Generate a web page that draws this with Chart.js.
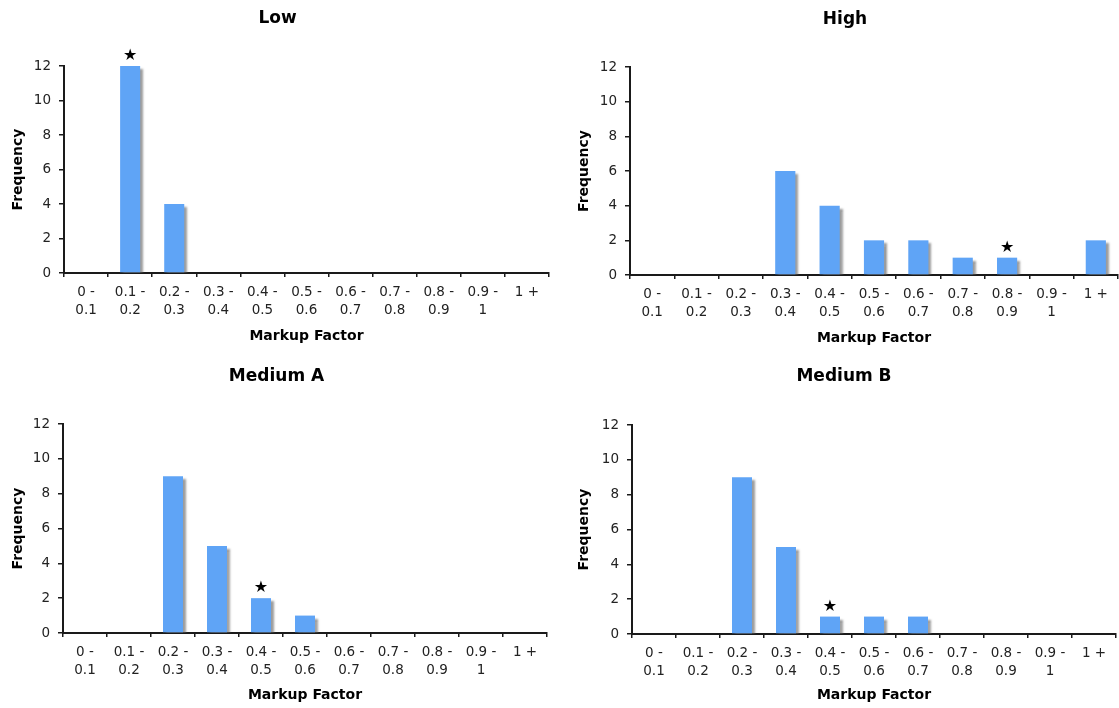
<!DOCTYPE html>
<html>
<head>
<meta charset="utf-8">
<script src="https://cdn.jsdelivr.net/npm/chart.js@4"></script>
<style>
  html, body { margin: 0; padding: 0; background: #fff; }
  body { width: 1119px; height: 708px; position: relative; overflow: hidden; }
  canvas { position: absolute; }
</style>
</head>
<body>
<canvas id="low"></canvas>
<canvas id="high"></canvas>
<canvas id="mediumA"></canvas>
<canvas id="mediumB"></canvas>
<script>
// markup factor bins (two-line labels, as wrapped in the original)
const categories = [
  ["0 -", "0.1"], ["0.1 -", "0.2"], ["0.2 -", "0.3"], ["0.3 -", "0.4"],
  ["0.4 -", "0.5"], ["0.5 -", "0.6"], ["0.6 -", "0.7"], ["0.7 -", "0.8"],
  ["0.8 -", "0.9"], ["0.9 -", "1"], ["1 +"]
];
const lowFreq     = [0, 12, 4, 0, 0, 0, 0, 0, 0, 0, 0];
const highFreq    = [0, 0, 0, 6, 4, 2, 2, 1, 1, 0, 2];
const mediumAFreq = [0, 0, 9, 5, 2, 1, 0, 0, 0, 0, 0];
const mediumBFreq = [0, 0, 9, 5, 1, 1, 1, 0, 0, 0, 0];
const panelTitles = ["Low", "High", "Medium A", "Medium B"];
const starIndex   = [1, 8, 4, 4];   // bin marked with a star in each panel
const yMin = 0, yMax = 12, yStep = 2;
const xTitle = "Markup Factor";
const yTitle = "Frequency";

const seriesList = [lowFreq, highFreq, mediumAFreq, mediumBFreq];
const canvasIds = ["low", "high", "mediumA", "mediumB"];

// page layout (pixels): canvas box, plot box and title centre line
const layout = [
  { canvas: { l: 0,   t: 0,   w: 560, h: 356 }, plot: { l: 64,  r: 549,  t: 66,  b: 273 }, titleY: 19 },
  { canvas: { l: 566, t: 0,   w: 553, h: 356 }, plot: { l: 630, r: 1118, t: 67,  b: 275 }, titleY: 20 },
  { canvas: { l: 0,   t: 356, w: 560, h: 352 }, plot: { l: 63,  r: 547,  t: 424, b: 633 }, titleY: 377 },
  { canvas: { l: 566, t: 356, w: 553, h: 352 }, plot: { l: 632, r: 1116, t: 425, b: 634 }, titleY: 377 }
];

const FONT = "'DejaVu Sans', Verdana, sans-serif";
const barColor = "#5fa4f6";
const axisColor = "#1a1a1a";

// soft grey shadow on the right side of each bar, like the old Excel look
const shadowPlugin = {
  id: "barShadow",
  beforeDatasetDraw(chart) {
    const ctx = chart.ctx;
    ctx.save();
    ctx.shadowColor = "rgba(90,90,90,0.6)";
    ctx.shadowOffsetX = 3;
    ctx.shadowOffsetY = 3;
    ctx.shadowBlur = 2;
  },
  afterDatasetDraw(chart) {
    chart.ctx.restore();
  }
};

// star above the marked bin
const starPlugin = {
  id: "starMark",
  afterDatasetsDraw(chart, args, opts) {
    const bar = chart.getDatasetMeta(0).data[opts.index];
    if (!bar) return;
    const ctx = chart.ctx;
    ctx.save();
    ctx.fillStyle = "#000";
    ctx.font = "16px " + FONT;
    ctx.textAlign = "center";
    ctx.textBaseline = "middle";
    ctx.fillText("\u2605", bar.x, bar.y - 10);
    ctx.restore();
  }
};

function makePanel(i) {
  const L = layout[i];
  const c = L.canvas, p = L.plot;
  const el = document.getElementById(canvasIds[i]);
  el.width = c.w; el.height = c.h;
  el.style.left = c.l + "px"; el.style.top = c.t + "px";

  const padLeft = 6;
  const titleLH = 17 * 1.2;
  const titleTop = L.titleY - c.t - titleLH / 2;
  const xAxisBottom = Math.min(p.b + 75.4, c.t + c.h);

  new Chart(el, {
    type: "bar",
    data: {
      labels: categories,
      datasets: [{
        data: seriesList[i],
        backgroundColor: barColor,
        borderWidth: 0,
        barPercentage: 0.9,
        categoryPercentage: 0.505
      }]
    },
    options: {
      responsive: false,
      animation: false,
      layout: {
        padding: {
          left: padLeft,
          right: (c.l + c.w) - p.r,
          top: 0,
          bottom: (c.t + c.h) - xAxisBottom
        }
      },
      plugins: {
        legend: { display: false },
        tooltip: { enabled: false },
        title: {
          display: true,
          text: panelTitles[i],
          color: "#000",
          font: { family: FONT, size: 17, weight: "bold", lineHeight: 1.2 },
          padding: { top: titleTop, bottom: (p.t - c.t) - titleTop - titleLH }
        },
        starMark: { index: starIndex[i] }
      },
      scales: {
        x: {
          afterFit: (s) => { s.height = xAxisBottom - p.b; },
          grid: {
            offset: true,
            drawOnChartArea: false,
            drawTicks: true,
            tickLength: 4,
            color: axisColor,
            lineWidth: 1.5
          },
          border: { display: true, color: axisColor, width: 2 },
          ticks: {
            autoSkip: false,
            maxRotation: 0,
            minRotation: 0,
            padding: 6,
            color: "#222",
            font: { family: FONT, size: 13.5, lineHeight: 1.35 }
          },
          title: {
            display: true,
            text: xTitle,
            color: "#000",
            padding: { top: 4, bottom: 4 },
            font: { family: FONT, size: 14, weight: "bold", lineHeight: 1.2 }
          }
        },
        y: {
          min: yMin,
          max: yMax,
          afterFit: (s) => { s.width = (p.l - c.l) - padLeft; },
          grid: {
            drawOnChartArea: false,
            drawTicks: true,
            tickLength: 5,
            color: axisColor,
            lineWidth: 1.5
          },
          border: { display: true, color: axisColor, width: 2 },
          ticks: {
            stepSize: yStep,
            padding: 8,
            color: "#222",
            font: { family: FONT, size: 13.5 }
          },
          title: {
            display: true,
            text: yTitle,
            color: "#000",
            padding: { top: 4, bottom: 4 },
            font: { family: FONT, size: 14, weight: "bold", lineHeight: 1.2 }
          }
        }
      }
    },
    plugins: [shadowPlugin, starPlugin]
  });
}

for (let i = 0; i < 4; i++) makePanel(i);
</script>
</body>
</html>
